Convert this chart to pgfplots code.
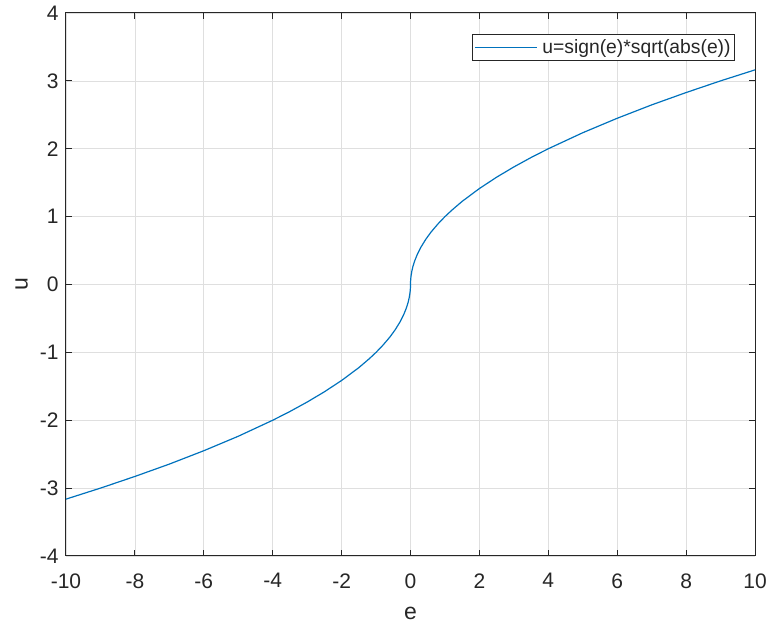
\documentclass[border=0pt]{standalone}
\usepackage{fontspec}
\setmainfont{Liberation Sans}
\usepackage{pgfplots}
\pgfplotsset{compat=1.18}
\definecolor{mlblue}{RGB}{0,114,189}
\definecolor{mlaxis}{RGB}{38,38,38}
\definecolor{mlgrid}{RGB}{223,223,223}
\begin{document}
\begin{tikzpicture}
\begin{axis}[
    scale only axis,
    width=689pt, height=543pt,
    xmin=-10, xmax=10, ymin=-4, ymax=4,
    xtick={-10,-8,...,10}, ytick={-4,-3,...,4},
    grid=major,
    major grid style={mlgrid, line width=0.7pt},
    axis line style={mlaxis, line width=1pt},
    tick style={mlaxis, line width=1pt},
    tick align=inside,
    major tick length=6pt,
    ticklabel style={font=\fontsize{21}{23}\selectfont, text=mlaxis},
    /pgf/number format/assume math mode=true,
    xticklabel style={yshift=-14pt},
    yticklabel style={xshift=-4pt},
    xlabel={e}, ylabel={u},
    label style={font=\fontsize{23}{25}\selectfont, text=mlaxis},
    xlabel style={yshift=-12pt},
    ylabel style={yshift=5pt},
    legend style={at={(0.971,0.961)}, anchor=north east,
        draw=mlaxis, line width=0.8pt, fill=white,
        font=\fontsize{19.3}{21}\selectfont, text=mlaxis,
        column sep=3pt, inner xsep=2pt, inner ysep=3pt},
    legend cell align=left,
    legend image code/.code={%
        \draw[#1, line width=1.2pt] (0pt,0pt) -- (62pt,0pt);},
]
\addplot[mlblue, line width=1.2pt] coordinates {
(-10,-3.162) (-9,-3.000) (-8,-2.828) (-7,-2.646) (-6,-2.449) (-5,-2.236)
(-4,-2.000) (-3.5,-1.871) (-3,-1.732) (-2.5,-1.581) (-2,-1.414) (-1.5,-1.225)
(-1.2,-1.095) (-1,-1.000) (-0.8,-0.894) (-0.6,-0.775) (-0.45,-0.671)
(-0.3,-0.548) (-0.2,-0.447) (-0.12,-0.346) (-0.07,-0.265) (-0.04,-0.200)
(-0.02,-0.141) (-0.008,-0.089) (-0.002,-0.045) (0,0)
(0.002,0.045) (0.008,0.089) (0.02,0.141) (0.04,0.200) (0.07,0.265)
(0.12,0.346) (0.2,0.447) (0.3,0.548) (0.45,0.671) (0.6,0.775) (0.8,0.894)
(1,1.000) (1.2,1.095) (1.5,1.225) (2,1.414) (2.5,1.581) (3,1.732)
(3.5,1.871) (4,2.000) (5,2.236) (6,2.449) (7,2.646) (8,2.828) (9,3.000)
(10,3.162)
};
\addlegendentry{u=sign(e)*sqrt(abs(e))}
\end{axis}
\pgfresetboundingbox
\path ([shift={(-66pt,-67pt)}]current axis.south west) rectangle ([shift={(15pt,13pt)}]current axis.north east);
\end{tikzpicture}
\end{document}
